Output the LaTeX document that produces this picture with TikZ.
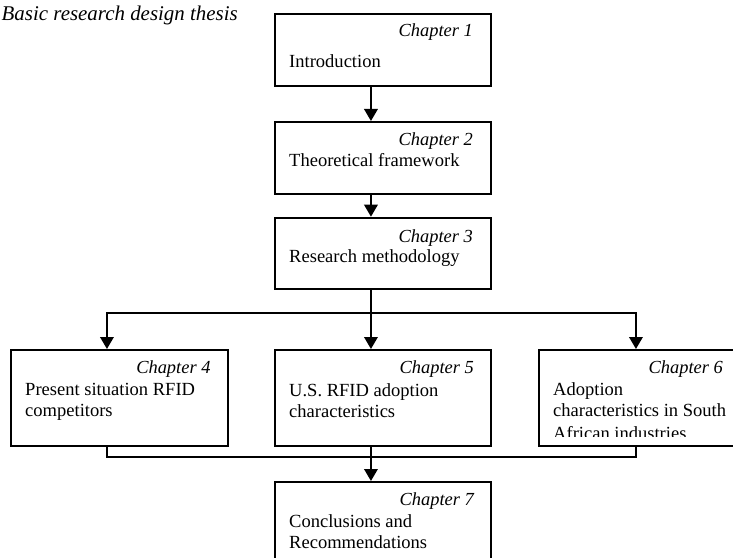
\documentclass[tikz,border=0pt]{standalone}
\usepackage{fontspec}
\setmainfont{Liberation Serif}
\usetikzlibrary{arrows.meta}
\begin{document}
\begin{tikzpicture}[x=1bp,y=-1bp,
  chbox/.style={draw, line width=1.9bp, minimum width=216bp, inner sep=0pt, anchor=north west},
  flow/.style={line width=1.9bp},
  arr/.style={flow, -{Triangle[width=13.5bp,length=12bp]}},
  chap/.style={font=\fontsize{18.5}{21}\selectfont\itshape, anchor=base east, inner sep=0pt},
  body/.style={font=\fontsize{18.6}{21}\selectfont, anchor=base west, inner sep=0pt},
  title/.style={font=\fontsize{21}{24}\selectfont\itshape, anchor=base east, inner sep=0pt},
]
\clip (0,0) rectangle (733,558);

% heading
\node[title] (head) at (238,21) {Basic research design thesis};

% chapter boxes
\node[chbox, minimum height=72bp]   (b1) at (274,13) {};
\node[chbox, minimum height=71.7bp] (b2) at (274,121) {};
\node[chbox, minimum height=71.3bp] (b3) at (274,216.7) {};
\node[chbox, minimum height=96bp, minimum width=216.7bp] (b4) at (10,349) {};
\node[chbox, minimum height=96bp]   (b5) at (274,349) {};
\node[chbox, minimum height=96bp]   (b6) at (538,349) {};
\node[chbox, minimum height=96bp]   (b7) at (274,481) {};

% box texts
\node[chap] (c1) at (473,36.5) {Chapter 1};
\node[body] (t1) at (289,68) {Introduction};

\node[chap] (c2) at (473,146) {Chapter 2};
\node[body] (t2) at (289,166.7) {Theoretical framework};

\node[chap] (c3) at (473,242.5) {Chapter 3};
\node[body] (t3) at (289,263) {Research methodology};

\node[chap] (c4) at (210.7,373) {Chapter 4};
\node[body] (t4a) at (25,395.7) {Present situation RFID};
\node[body] (t4b) at (25,416.7) {competitors};

\node[chap] (c5) at (474,373) {Chapter 5};
\node[body] (t5a) at (289,396) {U.S. RFID adoption};
\node[body] (t5b) at (289,417) {characteristics};

\node[chap] (c6) at (723,373) {Chapter 6};
\node[body] (t6a) at (553,395.5) {Adoption};
\node[body] (t6b) at (553,416.7) {characteristics in South};
% the last line runs past the text area and is cut off
\begin{scope}
  \clip (538,349) rectangle (760,436);
  \node[body] (t6c) at (553,439.5) {African industries};
\end{scope}

\node[chap] (c7) at (474,505) {Chapter 7};
\node[body] (t7a) at (289,527.5) {Conclusions and};
\node[body] (t7b) at (289,548) {Recommendations};

% connectors
\draw[arr] ([xshift=-12bp]b1.south) -- ([xshift=-12bp]b2.north);
\draw[arr] ([xshift=-12bp]b2.south) -- ([xshift=-12bp]b3.north);
\draw[arr] ([xshift=-12bp]b3.south) -- ([xshift=-12bp]b5.north);

\coordinate (split) at (370,312.7);
\draw[arr] (split) -| ([xshift=-12.35bp]b4.north);
\draw[arr] (split) -| ([xshift=-11bp]b6.north);

\coordinate (join) at (370,457);
\draw[flow] ([xshift=-12.35bp]b4.south) |- (join) -| ([xshift=-11bp]b6.south);
\draw[arr] ([xshift=-12bp]b5.south) -- ([xshift=-12bp]b7.north);
\end{tikzpicture}
\end{document}
